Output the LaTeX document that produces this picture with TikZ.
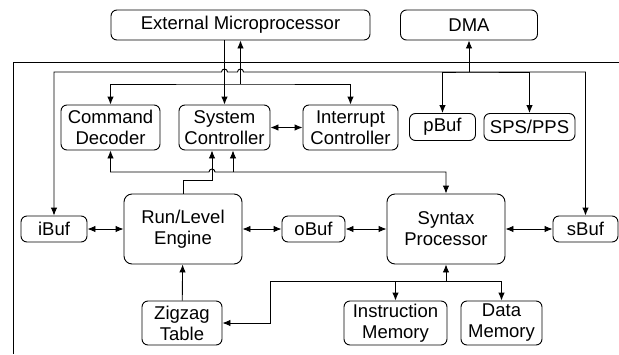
\documentclass[tikz,border=0pt]{standalone}
\usepackage{fontspec}
\setmainfont{Liberation Sans}
\usepackage{tikz}
\usetikzlibrary{arrows.meta,calc,positioning}
\tikzset{
  blk/.style={draw, rounded corners=6pt, align=center, inner sep=0pt, line width=0.9pt,
    font=\fontsize{18.5}{21}\selectfont},
  wire/.style={line width=0.9pt},
  tip/.tip={Latex[length=8pt,width=6.5pt]}
}
\begin{document}
\begin{tikzpicture}[x=1pt,y=-1pt]
        \def\r{3}
        \useasboundingbox (0,0) rectangle (619,354);
        % Draw the blocks
        \node[blk, minimum width=259, minimum height=30] (em) at (240.5,25) {External Microprocessor};
        \node[blk, minimum width=137, minimum height=30] (dma) at (469,25) {DMA};
        \node[blk, minimum width=99, minimum height=45] (cd) at (110.5,127.5) {Command\\Decoder};
        \node[blk, minimum width=91, minimum height=45] (sc) at (224.5,127.5) {System\\Controller};
        \node[blk, minimum width=95, minimum height=45] (ic) at (350.5,127.5) {Interrupt\\Controller};
        \node[blk, minimum width=66, minimum height=27] (pbuf) at (442.5,127) {pBuf};
        \node[blk, minimum width=91, minimum height=27] (sps) at (529.5,127) {SPS/PPS};
        \node[blk, minimum width=66, minimum height=26] (ibuf) at (54,229) {iBuf};
        \node[blk, minimum width=118, minimum height=70, rounded corners=8pt] (rle) at (183,229) {Run/Level\\Engine};
        \node[blk, minimum width=63, minimum height=26] (obuf) at (313.5,229) {oBuf};
        \node[blk, minimum width=118, minimum height=70, rounded corners=8pt] (sp) at (446,229) {Syntax\\Processor};
        \node[blk, minimum width=65, minimum height=26] (sbuf) at (585.5,229) {sBuf};
        \node[blk, minimum width=80, minimum height=44] (zz) at (182,323) {Zigzag\\Table};
        \node[blk, minimum width=103, minimum height=44] (im) at (395.5,323) {Instruction\\Memory};
        \node[blk, minimum width=81, minimum height=44] (dm) at (501.5,323) {Data\\Memory};
        % chip border
        \draw[wire] (619,62) -- (13,62) -- (13,354);
        % bus points
        \coordinate (dmabus) at (dma.south |- 0,72);
        \coordinate (cmdbus) at (em.south |- 0,84);
        \coordinate (hopa) at (212,172);
        \coordinate (tap) at (233,172);
        \coordinate (membus) at (270,281);
        % DMA bus
        \draw[wire,tip-tip] (ibuf.north) |- ($(sc.north |- dmabus)+(-\r,0)$)
              arc[start angle=180, end angle=360, radius=\r]
              -- ($(em.south |- dmabus)+(-\r,0)$)
              arc[start angle=180, end angle=360, radius=\r]
              -| (sbuf.north);
        \draw[wire,tip-tip] (pbuf.north) |- (dmabus) -| (sps.north);
        \draw[wire,-tip] (dmabus) -- (dma.south);
        % microprocessor
        \draw[wire,-tip] (em.south -| sc.north) -- (sc.north);
        \draw[wire,tip-tip] (cd.north) |- (cmdbus) -| (ic.north);
        \draw[wire,-tip] (cmdbus) -- (em.south);
        \draw[wire,tip-tip] (sc) -- (ic);
        % control
        \draw[wire,tip-tip] (cd.south) |- ($(hopa)+(-\r,0)$)
              arc[start angle=180, end angle=360, radius=\r] -| (sp.north);
        \draw[wire,-tip] (tap) -- (tap |- sc.south);
        \draw[wire,-tip] (rle.north) |- ($(hopa)+(0,8)$) -- (hopa |- sc.south);
        % data path
        \draw[wire,tip-tip] (ibuf) -- (rle);
        \draw[wire,tip-tip] (rle) -- (obuf);
        \draw[wire,tip-tip] (obuf) -- (sp);
        \draw[wire,tip-tip] (sp) -- (sbuf);
        \draw[wire,-tip] (zz) -- (rle);
        % memories
        \draw[wire,-tip] (sp.south |- membus) -- (sp.south);
        \draw[wire,tip-tip] (zz.east) -| (membus) -| (dm.north);
        \draw[wire,-tip] (im.north |- membus) -- (im.north);
\end{tikzpicture}
\end{document}
